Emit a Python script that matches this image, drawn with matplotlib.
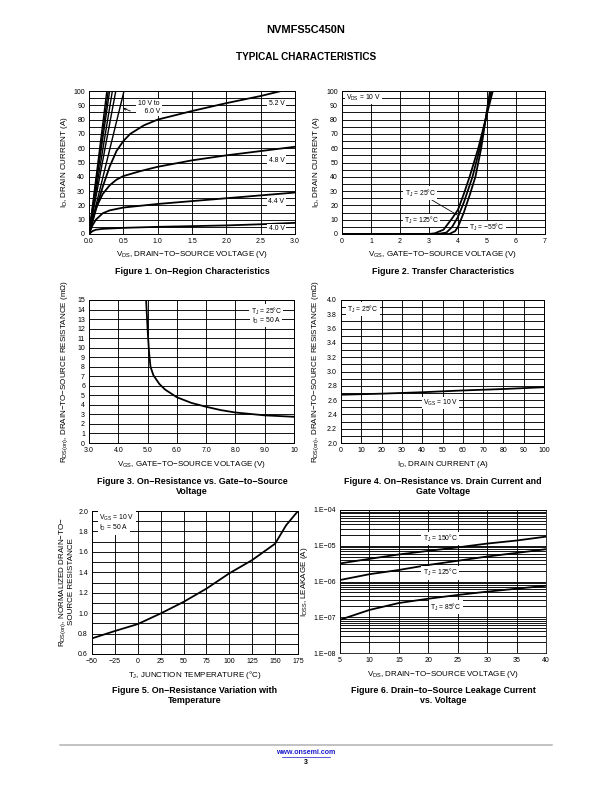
import numpy as np
import matplotlib
matplotlib.use("Agg")
import matplotlib.pyplot as plt
from matplotlib.ticker import FixedLocator, LogLocator, NullFormatter

plt.rcParams['font.family'] = ['Liberation Sans', 'DejaVu Sans']
plt.rcParams['mathtext.fontset'] = 'custom'
plt.rcParams['mathtext.rm'] = 'Liberation Sans'
plt.rcParams['mathtext.it'] = 'Liberation Sans'
plt.rcParams['mathtext.default'] = 'regular'

# ---- Figure 1 data: on-region characteristics
steep_vds_top = [0.26, 0.28, 0.30, 0.34, 0.39, 0.51]   # 10 V ... 6.0 V reach 100 A
steep_id = [0, 100]
vds_52 = [0, 0.1, 0.2, 0.3, 0.4, 0.5, 0.6, 0.8, 1.0, 1.5, 2.0, 2.5, 2.8]
id_52 = [0, 17, 33, 47, 58, 65, 70, 76, 80, 86, 91.5, 96.5, 100]
vds_48 = [0, 0.05, 0.1, 0.2, 0.3, 0.4, 0.5, 0.75, 1.0, 1.5, 2.0, 2.5, 3.0]
id_48 = [0, 9, 18, 28, 34, 38, 40.5, 44, 47, 51.5, 55, 58, 61]
vds_44 = [0, 0.05, 0.1, 0.2, 0.3, 0.5, 1.0, 1.5, 2.0, 2.5, 3.0]
id_44 = [0, 6, 10, 14.5, 16.5, 18.5, 21, 23, 25, 27, 29]
vds_40 = [0, 0.05, 0.1, 0.2, 0.5, 1.0, 1.5, 2.0, 2.5, 3.0]
id_40 = [0, 2, 3, 3.6, 4.3, 5, 5.5, 6, 6.8, 7.8]

# ---- Figure 2 data: transfer characteristics
vgs_125 = [0, 3.0, 3.2, 3.5, 3.8, 4.0, 4.2, 4.4, 4.7, 4.95, 5.2]
id_125 = [0, 0, 0.5, 3, 11, 17, 28, 40, 60, 80, 100]
vgs_25 = [0, 3.3, 3.6, 3.8, 4.0, 4.2, 4.5, 4.75, 4.95, 5.15]
id_25 = [0, 0, 1, 5, 12, 22, 40, 60, 80, 100]
vgs_m55 = [0, 3.7, 3.9, 4.0, 4.2, 4.4, 4.6, 4.8, 4.95, 5.1]
id_m55 = [0, 0, 2, 5, 15, 27, 40, 60, 80, 100]

# ---- Figure 3 data: RDS(on) vs VGS
vgs_r = [4.95, 5.0, 5.05, 5.1, 5.2, 5.4, 5.6, 6.0, 6.5, 7.0, 7.5, 8.0, 9.0, 10.0]
rds_vgs = [15, 12, 9.5, 8.0, 7.1, 6.2, 5.6, 4.8, 4.2, 3.8, 3.45, 3.2, 2.9, 2.75]

# ---- Figure 4 data: RDS(on) vs ID
id_r = [0, 20, 40, 60, 80, 100]
rds_id = [2.675, 2.69, 2.71, 2.735, 2.755, 2.78]

# ---- Figure 5 data: normalized RDS(on) vs TJ
tj = [-50, -25, 0, 25, 50, 75, 100, 125, 150, 162, 175]
rds_norm = [0.753, 0.825, 0.893, 0.997, 1.11, 1.24, 1.39, 1.52, 1.68, 1.86, 2.0]

# ---- Figure 6 data: leakage vs VDS
vds_leak = [5, 10, 15, 20, 25, 30, 35, 40]
idss_150 = [3.2e-6, 4.3e-6, 5.7e-6, 7.2e-6, 9e-6, 1.15e-5, 1.4e-5, 1.8e-5]
idss_125 = [1.1e-6, 1.6e-6, 2.1e-6, 2.9e-6, 3.8e-6, 5.0e-6, 6.3e-6, 8e-6]
idss_85 = [8.5e-8, 1.6e-7, 2.5e-7, 3.3e-7, 4.2e-7, 5.2e-7, 6.3e-7, 7.6e-7]

W, H = 612, 792
fig = plt.figure(figsize=(W / 72, H / 72), dpi=72)

def add_ax(l, r, t, b):
    return fig.add_axes([l / W, 1 - b / H, (r - l) / W, (b - t) / H])

def ftext(x, y, s, **kw):
    fig.text(x / W, 1 - y / H, s, **kw)

fs_tick = 7.0
fs_lab = 8.0
fs_cap = 8.9
fs_in = 6.8
LW = 1.8
box = dict(facecolor='white', edgecolor='none', pad=1.2)

def style(ax, xmaj, xmin, ymaj, ymin, xlab, ylab):
    ax.set_xticks(xmaj)
    ax.set_xticklabels(xlab)
    ax.set_yticks(ymaj)
    ax.set_yticklabels(ylab)
    ax.set_xticks(xmin, minor=True)
    ax.set_yticks(ymin, minor=True)
    ax.set_xlim(xmaj[0], xmaj[-1])
    ax.set_ylim(ymaj[0], ymaj[-1])
    ax.grid(which='both', color='black', lw=0.9)
    ax.tick_params(which='both', length=0, labelsize=fs_tick, pad=4)
    for s in ax.spines.values():
        s.set_linewidth(1.0)
    ax.set_axisbelow(True)

# ---------- Figure 1
ax1 = add_ax(89, 295, 91, 234)
x = [0, 0.5, 1.0, 1.5, 2.0, 2.5, 3.0]
y = list(range(0, 101, 10))
style(ax1, x, [], y, list(range(0, 101, 5)), ['%.1f' % v for v in x], [str(v) for v in y])
for xt in steep_vds_top:
    ax1.plot([0, xt], steep_id, color='black', lw=1.4)
ax1.plot(vds_52, id_52, color='black', lw=LW)
ax1.plot(vds_48, id_48, color='black', lw=LW)
ax1.plot(vds_44, id_44, color='black', lw=LW)
ax1.plot(vds_40, id_40, color='black', lw=LW)
for v, lab in [(91, '5.2 V'), (51.6, '4.8 V'), (23, '4.4 V'), (4, '4.0 V')]:
    ax1.text(2.73, v, lab, fontsize=fs_in, ha='center', va='center', bbox=box)
ax1.text(0.87, 88.5, '10 V to\n    6.0 V', fontsize=fs_in, ha='center', va='center',
         linespacing=1.2, bbox=box)
ax1.annotate('', xy=(0.47, 88.5), xytext=(0.63, 85.5),
             arrowprops=dict(arrowstyle='->', lw=0.8, color='black', mutation_scale=5))
ftext(65, 162, 'I$_D$, DRAIN CURRENT (A)', rotation=90, ha='center', va='center', fontsize=fs_lab)
ftext(192, 255, 'V$_{DS}$, DRAIN\u2212TO\u2212SOURCE VOLTAGE (V)', ha='center', va='center', fontsize=fs_lab)
ftext(192, 272, 'Figure 1. On\u2212Region Characteristics', ha='center', va='center',
      fontsize=fs_cap, fontweight='bold')

# ---------- Figure 2
ax2 = add_ax(342, 545, 91, 234)
x = list(range(0, 8))
style(ax2, x, [], y, list(range(0, 101, 5)), [str(v) for v in x], [str(v) for v in y])
ax2.plot(vgs_125, id_125, color='black', lw=LW)
ax2.plot(vgs_25, id_25, color='black', lw=LW)
ax2.plot(vgs_m55, id_m55, color='black', lw=LW)
ax2.text(0.15, 95, 'V$_{DS}$ = 10 V', fontsize=fs_in, ha='left', va='center', bbox=box)
ax2.annotate('T$_J$ = 25\u00b0C', xy=(4.0, 13), xytext=(2.7, 28.5), fontsize=fs_in,
             ha='center', va='center', bbox=box,
             arrowprops=dict(arrowstyle='-', lw=0.8, color='black',
                             shrinkA=0, shrinkB=0))
ax2.text(2.75, 9.5, 'T$_J$ = 125\u00b0C', fontsize=fs_in, ha='center', va='center', bbox=box)
ax2.text(5.0, 4.5, 'T$_J$ = \u221255\u00b0C', fontsize=fs_in, ha='center', va='center', bbox=box)
ftext(316, 162, 'I$_D$, DRAIN CURRENT (A)', rotation=90, ha='center', va='center', fontsize=fs_lab)
ftext(443, 255, 'V$_{GS}$, GATE\u2212TO\u2212SOURCE VOLTAGE (V)', ha='center', va='center', fontsize=fs_lab)
ftext(443, 272, 'Figure 2. Transfer Characteristics', ha='center', va='center',
      fontsize=fs_cap, fontweight='bold')

# ---------- Figure 3
ax3 = add_ax(89, 294, 300, 443)
x = list(range(3, 11))
y = list(range(0, 16))
style(ax3, x, [], y, [], ['%.1f' % v if v < 10 else '10' for v in x], [str(v) for v in y])
ax3.plot(vgs_r, rds_vgs, color='black', lw=LW)
ax3.text(9.05, 13.85, 'T$_J$ = 25\u00b0C', fontsize=fs_in, ha='center', va='center', bbox=box)
ax3.text(9.05, 12.85, 'I$_D$ = 50 A', fontsize=fs_in, ha='center', va='center', bbox=box)
ftext(65, 372, 'R$_{DS(on)}$, DRAIN\u2212TO\u2212SOURCE RESISTANCE (m\u03a9)', rotation=90,
      ha='center', va='center', fontsize=fs_lab)
ftext(192, 465, 'V$_{GS}$, GATE\u2212TO\u2212SOURCE VOLTAGE (V)', ha='center', va='center', fontsize=fs_lab)
ftext(192, 486.5, 'Figure 3. On\u2212Resistance vs. Gate\u2212to\u2212Source\nVoltage', ha='center',
      va='center', fontsize=fs_cap, fontweight='bold', linespacing=1.1)

# ---------- Figure 4
ax4 = add_ax(341, 544, 300, 443)
x = list(range(0, 101, 10))
y = [round(2.0 + 0.2 * i, 1) for i in range(11)]
style(ax4, x, [], y, [round(2.0 + 0.1 * i, 1) for i in range(21)],
      [str(v) for v in x], ['%.1f' % v for v in y])
ax4.plot(id_r, rds_id, color='black', lw=LW)
ax4.text(3, 3.87, 'T$_J$ = 25\u00b0C', fontsize=fs_in, ha='left', va='center', bbox=box)
ax4.text(49, 2.56, 'V$_{GS}$ = 10 V', fontsize=fs_in, ha='center', va='center', bbox=box)
ftext(316, 372, 'R$_{DS(on)}$, DRAIN\u2212TO\u2212SOURCE RESISTANCE (m\u03a9)', rotation=90,
      ha='center', va='center', fontsize=fs_lab)
ftext(443, 465, 'I$_D$, DRAIN CURRENT (A)', ha='center', va='center', fontsize=fs_lab)
ftext(443, 486.5, 'Figure 4. On\u2212Resistance vs. Drain Current and\nGate Voltage', ha='center',
      va='center', fontsize=fs_cap, fontweight='bold', linespacing=1.1)

# ---------- Figure 5
ax5 = add_ax(92, 298, 511, 654)
x = list(range(-50, 176, 25))
y = [round(0.6 + 0.2 * i, 1) for i in range(8)]
style(ax5, x, [], y, [round(0.6 + 0.1 * i, 1) for i in range(15)],
      [str(v).replace('-', '\u2212') for v in x], ['%.1f' % v for v in y])
ax5.plot(tj, rds_norm, color='black', lw=LW)
ax5.text(-42, 1.935, 'V$_{GS}$ = 10 V', fontsize=fs_in, ha='left', va='center', bbox=box)
ax5.text(-42, 1.83, 'I$_D$ = 50 A', fontsize=fs_in, ha='left', va='center', bbox=box)
ftext(66, 582, 'R$_{DS(on)}$, NORMALIZED DRAIN\u2212TO\u2212\nSOURCE RESISTANCE', rotation=90,
      ha='center', va='center', fontsize=fs_lab, linespacing=0.95)
ftext(195, 675, 'T$_J$, JUNCTION TEMPERATURE (\u00b0C)', ha='center', va='center', fontsize=fs_lab)
ftext(195, 695.5, 'Figure 5. On\u2212Resistance Variation with\nTemperature', ha='center',
      va='center', fontsize=fs_cap, fontweight='bold', linespacing=1.1)

# ---------- Figure 6
ax6 = add_ax(340, 546, 510, 653)
x = list(range(5, 41, 5))
ax6.set_yscale('log')
ax6.set_xticks(x)
ax6.set_xticklabels([str(v) for v in x])
ax6.set_xlim(5, 40)
ax6.set_ylim(1e-8, 1e-4)
ax6.yaxis.set_major_locator(FixedLocator([1e-8, 1e-7, 1e-6, 1e-5, 1e-4]))
ax6.set_yticklabels(['1.E\u221208', '1.E\u221207', '1.E\u221206', '1.E\u221205', '1.E\u221204'])
ax6.yaxis.set_minor_locator(LogLocator(base=10, subs=np.arange(2, 10)))
ax6.yaxis.set_minor_formatter(NullFormatter())
ax6.grid(which='both', color='black', lw=0.9)
ax6.tick_params(which='both', length=0, labelsize=fs_tick, pad=4)
ax6.set_axisbelow(True)
ax6.plot(vds_leak, idss_150, color='black', lw=LW)
ax6.plot(vds_leak, idss_125, color='black', lw=LW)
ax6.plot(vds_leak, idss_85, color='black', lw=LW)
ax6.text(22, 1.6e-5, 'T$_J$ = 150\u00b0C', fontsize=fs_in, ha='center', va='center', bbox=box)
ax6.text(22, 1.75e-6, 'T$_J$ = 125\u00b0C', fontsize=fs_in, ha='center', va='center', bbox=box)
ax6.text(23, 1.9e-7, 'T$_J$ = 85\u00b0C', fontsize=fs_in, ha='center', va='center', bbox=box)
ftext(304, 582, 'I$_{DSS}$, LEAKAGE (A)', rotation=90, ha='center', va='center', fontsize=fs_lab)
ftext(443, 675, 'V$_{DS}$, DRAIN\u2212TO\u2212SOURCE VOLTAGE (V)', ha='center', va='center', fontsize=fs_lab)
ftext(443, 695.5, 'Figure 6. Drain\u2212to\u2212Source Leakage Current\nvs. Voltage', ha='center',
      va='center', fontsize=fs_cap, fontweight='bold', linespacing=1.1)

# ---------- page header / footer
ftext(306, 30, 'NVMFS5C450N', ha='center', va='center', fontsize=11, fontweight='bold')
ftext(306, 57, 'TYPICAL CHARACTERISTICS', ha='center', va='center', fontsize=10, fontweight='bold')
fig.add_artist(plt.Line2D([60 / W, 552 / W], [1 - 745 / H, 1 - 745 / H], color='#b0b0b0', lw=1.5))
ftext(306, 752, 'www.onsemi.com', ha='center', va='center', fontsize=7, fontweight='bold',
      color='#1a1acc')
fig.add_artist(plt.Line2D([282 / W, 330 / W], [1 - 756.5 / H, 1 - 756.5 / H], color='#1a1acc', lw=0.7))
ftext(306, 762, '3', ha='center', va='center', fontsize=7, fontweight='bold')

fig.savefig('out.png', dpi=72)
